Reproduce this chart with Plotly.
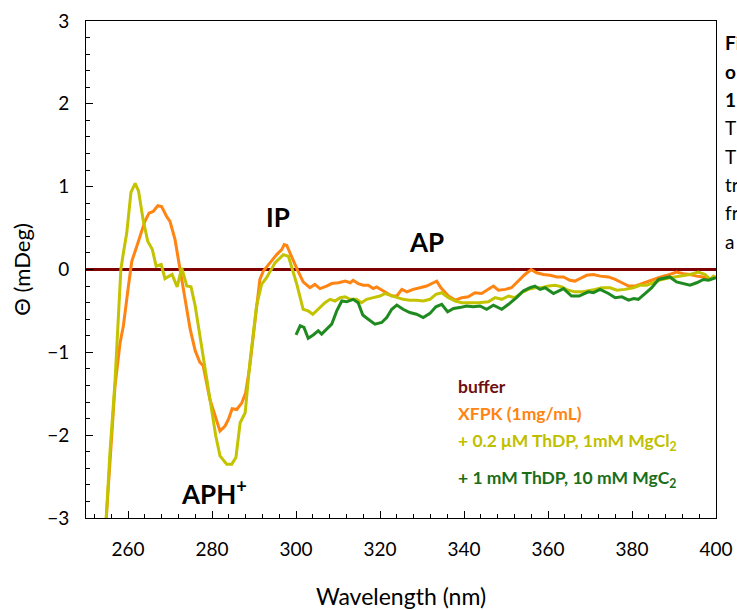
import plotly.graph_objects as go

# ---- data ----
buffer_x = [250, 400]
buffer_y = [0, 0]

xfpk_x = [254.7, 256.1, 256.9, 258.1, 258.9, 260.1, 260.9, 262.1, 263.3, 264.0, 265.0, 266.0, 267.1, 268.0,
          269.2, 270.0, 271.2, 272.4, 273.6, 274.8, 276.0, 277.1, 277.9, 279.5, 281.9, 283.1, 283.9, 284.8,
          285.9, 287.1, 288.0, 289.0, 290.2, 291.4, 292.2, 293.8, 295.4, 296.6, 297.2, 297.8, 299.0, 300.2,
          301.7, 303.3, 304.5, 305.7, 307.3, 308.5, 310.1, 311.7, 312.9, 313.6, 314.8, 316.0, 317.2, 318.4,
          319.2, 320.4, 321.6, 322.8, 324.0, 325.2, 326.4, 327.9, 329.5, 331.1, 332.7, 333.5, 334.5, 336.3,
          337.9, 339.5, 341.0, 342.6, 344.2, 345.8, 347.0, 348.2, 349.8, 351.3, 352.9, 354.5, 356.0, 357.3,
          358.9, 360.5, 362.1, 363.7, 365.2, 366.4, 368.0, 369.2, 370.8, 372.4, 374.4, 376.0, 377.6, 379.2,
          380.7, 382.3, 384.3, 386.3, 388.3, 390.6, 392.2, 393.8, 395.4, 397.0, 398.6, 400.0]
xfpk_y = [-3.1, -2.09, -1.41, -0.89, -0.68, -0.20, 0.10, 0.28, 0.46, 0.58, 0.68, 0.70, 0.77, 0.76,
          0.64, 0.58, 0.36, 0.0, -0.32, -0.72, -0.98, -1.12, -1.16, -1.57, -1.95, -1.89, -1.81, -1.68,
          -1.69, -1.61, -1.49, -1.17, -0.64, -0.12, -0.02, 0.08, 0.18, 0.24, 0.30, 0.29, 0.14, 0.01,
          -0.15, -0.22, -0.18, -0.23, -0.20, -0.17, -0.16, -0.14, -0.16, -0.13, -0.17, -0.19, -0.19, -0.23,
          -0.21, -0.25, -0.28, -0.32, -0.32, -0.24, -0.27, -0.24, -0.22, -0.20, -0.16, -0.14, -0.22, -0.32,
          -0.37, -0.34, -0.33, -0.28, -0.29, -0.24, -0.20, -0.25, -0.24, -0.22, -0.14, -0.06, 0.0, -0.04,
          -0.06, -0.07, -0.09, -0.09, -0.13, -0.14, -0.10, -0.07, -0.06, -0.08, -0.09, -0.12, -0.16, -0.20,
          -0.20, -0.17, -0.14, -0.10, -0.07, -0.03, -0.05, -0.06, -0.08, -0.09, -0.11, -0.09]

thdp02_x = [254.7, 255.7, 256.9, 257.7, 258.3, 258.9, 259.7, 260.7, 261.7, 262.5, 263.6, 264.7, 265.8, 266.7,
            267.9, 268.8, 270.5, 271.7, 272.8, 274.0, 275.0, 276.0, 278.0, 280.9, 281.9, 283.5, 284.7, 285.7,
            286.7, 287.9, 289.0, 290.6, 291.8, 293.0, 295.0, 297.0, 298.2, 299.4, 300.2, 301.7, 302.9, 304.0,
            305.3, 306.9, 308.1, 309.3, 310.5, 311.7, 312.9, 314.4, 315.6, 316.8, 318.4, 320.0, 321.2, 322.4,
            324.0, 325.5, 327.1, 328.7, 330.3, 331.9, 333.3, 334.7, 336.3, 337.9, 339.5, 341.0, 343.4, 345.8,
            347.4, 349.0, 350.6, 352.1, 353.7, 355.3, 356.9, 358.5, 360.1, 361.7, 363.3, 364.8, 366.4, 368.0,
            369.2, 371.2, 372.8, 374.8, 376.4, 378.3, 380.3, 381.9, 383.5, 385.1, 387.1, 389.0, 391.4, 393.8,
            395.8, 397.4, 398.6, 399.4, 400.0]
thdp02_y = [-3.1, -2.21, -1.36, -0.60, 0.0, 0.20, 0.44, 0.93, 1.04, 0.95, 0.60, 0.34, 0.24, 0.04,
            0.06, -0.11, -0.06, -0.21, 0.02, -0.20, -0.21, -0.44, -1.10, -2.01, -2.25, -2.35, -2.35, -2.27,
            -1.85, -1.73, -1.13, -0.44, -0.18, -0.10, 0.08, 0.18, 0.16, -0.04, -0.18, -0.48, -0.50, -0.54,
            -0.48, -0.40, -0.36, -0.38, -0.34, -0.33, -0.36, -0.36, -0.40, -0.36, -0.34, -0.32, -0.29, -0.31,
            -0.34, -0.36, -0.37, -0.37, -0.38, -0.36, -0.30, -0.28, -0.34, -0.38, -0.40, -0.40, -0.40, -0.39,
            -0.34, -0.36, -0.32, -0.34, -0.28, -0.24, -0.22, -0.22, -0.20, -0.19, -0.21, -0.25, -0.27, -0.27,
            -0.26, -0.24, -0.22, -0.22, -0.25, -0.24, -0.22, -0.19, -0.19, -0.16, -0.12, -0.10, -0.08, -0.06,
            -0.03, -0.06, -0.12, -0.08, -0.10]

thdp1_x = [300.0, 301.0, 301.9, 302.9, 304.1, 305.3, 306.1, 307.3, 308.5, 309.7, 310.9, 312.1, 313.6, 314.8,
           315.9, 317.2, 318.8, 320.4, 321.6, 322.8, 324.0, 325.5, 327.1, 328.7, 330.3, 331.9, 333.3, 334.7,
           336.1, 337.5, 339.0, 340.6, 342.2, 343.8, 345.4, 347.0, 349.0, 350.6, 352.5, 354.1, 355.7, 356.9,
           358.1, 359.3, 361.3, 363.7, 365.6, 367.4, 369.6, 370.8, 372.4, 374.4, 376.0, 377.6, 379.2, 380.4,
           381.5, 383.1, 384.7, 386.3, 387.5, 389.0, 390.6, 392.2, 393.8, 395.4, 397.0, 398.2, 399.4, 400.0]
thdp1_y = [-0.79, -0.68, -0.70, -0.83, -0.79, -0.74, -0.78, -0.72, -0.66, -0.50, -0.38, -0.39, -0.36, -0.40,
           -0.55, -0.60, -0.66, -0.64, -0.58, -0.48, -0.43, -0.48, -0.52, -0.54, -0.58, -0.53, -0.45, -0.42,
           -0.51, -0.47, -0.46, -0.44, -0.45, -0.44, -0.48, -0.43, -0.48, -0.42, -0.34, -0.26, -0.22, -0.20,
           -0.24, -0.22, -0.29, -0.23, -0.32, -0.32, -0.27, -0.28, -0.24, -0.29, -0.34, -0.33, -0.37, -0.35,
           -0.36, -0.29, -0.22, -0.12, -0.11, -0.09, -0.15, -0.17, -0.19, -0.16, -0.12, -0.13, -0.11, -0.10]

x_ticks = [260, 280, 300, 320, 340, 360, 380, 400]
y_ticks = [-3, -2, -1, 0, 1, 2, 3]

legend_labels = ["buffer", "XFPK (1mg/mL)", "+ 0.2 μM ThDP, 1mM MgCl<sub>2</sub>",
                 "+ 1 mM ThDP, 10 mM MgC<sub>2</sub>"]
side_text = [("Fi", True), ("o", True), ("1", True), ("T", False), ("T", False),
             ("tr", False), ("fr", False), ("a", False)]

# ---- styles ----
C_BUF = "#7F0000"
C_XFPK = "#FF8411"
C_T02 = "#C3C300"
C_T1 = "#1F8A1F"
LEG_COLORS = ["#6E1010", "#FF8411", "#BFBF00", "#1A6E1A"]
FONT = "Lato"

fig = go.Figure()
fig.add_trace(go.Scatter(x=buffer_x, y=buffer_y, mode="lines", line=dict(color=C_BUF, width=3)))
fig.add_trace(go.Scatter(x=xfpk_x, y=xfpk_y, mode="lines", line=dict(color=C_XFPK, width=3)))
fig.add_trace(go.Scatter(x=thdp02_x, y=thdp02_y, mode="lines", line=dict(color=C_T02, width=3)))
fig.add_trace(go.Scatter(x=thdp1_x, y=thdp1_y, mode="lines", line=dict(color=C_T1, width=3)))

PT = 21
PB = 92
PL = 86
PR = 21
H = 610
W = 737
ph = H - PT - PB
pw = W - PL - PR

def py(pix):
    return (H - PB - pix) / ph

def px(pix):
    return (pix - PL) / pw

annotations = []
# peak labels
for txt, xv, yv in [("IP", 295.7, 0.63), ("AP", 331.0, 0.33), ("APH<sup>+</sup>", 280.5, -2.69)]:
    annotations.append(dict(x=xv, y=yv, xref="x", yref="y", text="<b>" + txt + "</b>",
                            showarrow=False, font=dict(family=FONT, size=26, color="black")))
# legend text
for lab, col, ypix in zip(legend_labels, LEG_COLORS, [386, 413, 442, 479]):
    annotations.append(dict(x=px(456), y=py(ypix), xref="paper", yref="paper", text="<b>" + lab + "</b>",
                            xanchor="left", yanchor="middle", showarrow=False,
                            font=dict(family=FONT, size=17.5, color=col)))
# clipped side text
for i, (t, b) in enumerate(side_text):
    annotations.append(dict(x=px(723), y=py(43 + i * 28.3), xref="paper", yref="paper",
                            text=("<b>" + t + "</b>") if b else t, xanchor="left", yanchor="middle",
                            showarrow=False, font=dict(family=FONT, size=19, color="black")))

fig.update_layout(
    template="none",
    width=W, height=H,
    margin=dict(l=PL, r=PR, t=PT, b=PB, pad=0),
    paper_bgcolor="white", plot_bgcolor="white",
    showlegend=False,
    font=dict(family=FONT, color="black"),
    annotations=annotations,
    xaxis=dict(range=[250, 400], tickvals=x_ticks, ticks="inside", ticklen=7, tickcolor="black",
               automargin=False,
               showline=True, linecolor="black", linewidth=1, mirror=True, showgrid=False, zeroline=False,
               minor=dict(dtick=4, tick0=0, ticks="inside", ticklen=4, tickcolor="black", showgrid=False),
               tickfont=dict(family=FONT, size=19, color="black"), ticklabelstandoff=14,
               title=dict(text="Wavelength (nm)", font=dict(family=FONT, size=23, color="black"), standoff=32)),
    yaxis=dict(range=[-3, 3], tickvals=y_ticks, ticks="inside", ticklen=7, tickcolor="black",
               automargin=False,
               showline=True, linecolor="black", linewidth=1, mirror=True, showgrid=False, zeroline=False,
               minor=dict(dtick=0.2, tick0=0, ticks="inside", ticklen=4, tickcolor="black", showgrid=False),
               tickfont=dict(family=FONT, size=19, color="black"), ticklabelstandoff=12,
               title=dict(text="Θ (mDeg)", font=dict(family=FONT, size=22, color="black"), standoff=10)),
)

fig.write_html("out.html", config={"displayModeBar": False},
               post_script="document.body.style.margin='0';document.body.style.overflow='hidden';")
